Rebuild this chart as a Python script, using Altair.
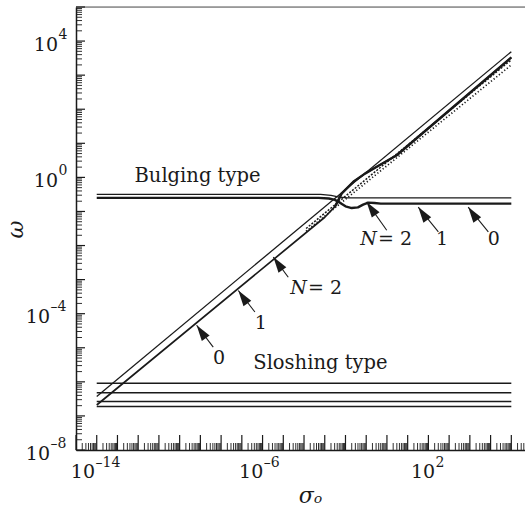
import altair as alt
import pandas as pd

W, H = 449, 443
FONT = "DejaVu Serif"
INK = "#1a1a1a"
X_DOMAIN = [1e-15, 10 ** 6.66]
Y_DOMAIN = [1e-8, 1e5]

# ---- curves: log10(sigma_o), log10(omega) ----
upper_diag_ls = [-14.0, 6.0]
upper_diag_lw = [-6.43, 3.69]

lower_branch_ls = [-14.0, -3.0, -2.5, -2.18, -1.62, -1.06, -0.49, 0.47, 6.0]
lower_branch_lw = [-6.68, -1.17, -0.85, -0.47, -0.13, 0.11, 0.31, 0.65, 3.52]

bulge_thin_ls = [-14.0, -3.2, -2.7, -2.3, -1.9, 6.0]
bulge_thin_lw = [-0.50, -0.50, -0.53, -0.58, -0.60, -0.60]

bulge_thick_ls = [-14.0, -3.3, -2.8, -2.51, -2.25, -2.0, -1.70, -1.4, -1.15, -0.90, -0.6, -0.3, 6.0]
bulge_thick_lw = [-0.60, -0.60, -0.62, -0.66, -0.75, -0.85, -0.90, -0.88, -0.80, -0.74, -0.75, -0.77, -0.77]

dashed_ls = [-3.9, 6.0]
dashed_lw = [-1.50, 3.45]

dotted_ls = [-3.9, 6.0]
dotted_lw = [-1.58, 3.30]

slosh_ls = [-14.0, 6.0]
slosh_levels = [-6.04, -6.32, -6.58, -6.72]

# ---- annotations ----
type_text = ["Bulging type", "Sloshing type"]
type_ls = [-9.14, -3.21]
type_lw = [-0.134, -5.617]

num_text = ["1", "0", "1", "0"]
num_ls = [2.66, 5.16, -6.09, -8.10]
num_lw = [-1.994, -1.994, -4.442, -5.47]

n_ls = [-0.48, -3.86]
n_lw = [-1.994, -3.413]

arrow_tail_ls = [-0.01, 2.48, 4.89, -4.76, -6.37, -8.38]
arrow_tail_lw = [-1.55, -1.60, -1.60, -2.93, -3.95, -4.98]
arrow_tip_ls = [-0.98, 1.51, 3.92, -5.48, -7.17, -9.18]
arrow_tip_lw = [-0.72, -0.87, -0.87, -2.34, -3.32, -4.34]

# ---- axis tick labels (10 with exponent) ----
x_label_exp = [-14, -6, 2]
x_label_sup = ["–14", "–6", "2"]
y_label_exp = [-8, -4, 0, 4]
y_label_sup = ["–8", "–4", "0", "4"]
x_decades = list(range(-15, 7))
y_decades = list(range(-8, 6))
minor_mult = [2, 3, 4, 5, 6, 7, 8, 9]

# label placement styles (pixels)
x_label_dx = [-1.7, 0.7, 6.7]        # right edge of "10" relative to tick
y_label_x = [-26, -26, -18, -18]     # right edge of "10" relative to axis


def p(v):
    return 10.0 ** v


def curve_df(ls, lw):
    return pd.DataFrame({"sigma": [p(a) for a in ls],
                         "omega": [p(b) for b in lw],
                         "ord": list(range(len(ls)))})


xscale = alt.Scale(type="log", domain=X_DOMAIN, nice=False)
yscale = alt.Scale(type="log", domain=Y_DOMAIN, nice=False)

xaxis = alt.Axis(values=[p(e) for e in x_label_exp], labels=False,
                 ticks=False, tickSize=0, grid=False, domainColor=INK, domainWidth=1.5,
                 title="σₒ", titleFont=FONT, titleFontSize=22, titleFontStyle="italic",
                 titleFontWeight="normal", titleColor=INK, titleX=234, titleY=45,
                 titleAlign="center", titleBaseline="middle")
yaxis = alt.Axis(values=[p(e) for e in y_label_exp], labels=False,
                 ticks=False, tickSize=0, grid=False, domainColor=INK, domainWidth=1.5,
                 title="ω", titleFont=FONT, titleFontSize=22, titleFontStyle="italic",
                 titleFontWeight="normal", titleColor=INK, titleX=-61, titleY=222,
                 titleAlign="center", titleBaseline="middle", titleAngle=270)


def X(field="sigma"):
    return alt.X(f"{field}:Q", scale=xscale, axis=xaxis)


def Y(field="omega"):
    return alt.Y(f"{field}:Q", scale=yscale, axis=yaxis)


def line(df, width, dash=None):
    kw = dict(color=INK, strokeWidth=width, clip=True, strokeCap="butt", strokeJoin="round")
    if dash is not None:
        kw["strokeDash"] = dash
    return alt.Chart(df).mark_line(**kw).encode(x=X(), y=Y(), order="ord:Q")


layers = []
layers.append(line(curve_df(upper_diag_ls, upper_diag_lw), 1.3))
layers.append(line(curve_df(lower_branch_ls, lower_branch_lw), 1.7))
layers.append(line(curve_df(lower_branch_ls[2:], lower_branch_lw[2:]), 2.4))
layers.append(line(curve_df(bulge_thin_ls, bulge_thin_lw), 1.3))
layers.append(line(curve_df(bulge_thick_ls, bulge_thick_lw), 2.4))
layers.append(line(curve_df(dashed_ls, dashed_lw), 1.5, [2, 1.5]))
layers.append(line(curve_df(dotted_ls, dotted_lw), 1.7, [1.2, 2.2]))
for lv in slosh_levels:
    layers.append(line(curve_df(slosh_ls, [lv, lv]), 1.5))

# frame top line
top_df = pd.DataFrame({"omega": [Y_DOMAIN[1]]})
layers.append(alt.Chart(top_df).mark_rule(color="#555555", strokeWidth=1).encode(
    y=Y(), x=alt.value(0), x2=alt.value(W)))

# inward ticks
y_major_df = pd.DataFrame({"omega": [p(d) for d in y_decades]})
y_minor_df = pd.DataFrame({"omega": [m * p(d) for d in y_decades[:-1] for m in minor_mult]})
x_major_df = pd.DataFrame({"sigma": [p(d) for d in x_decades]})
x_minor_df = pd.DataFrame({"sigma": [m * p(d) for d in x_decades for m in minor_mult
                                     if m * p(d) < X_DOMAIN[1]]})
layers.append(alt.Chart(y_major_df).mark_rule(color=INK, strokeWidth=1.2).encode(
    y=Y(), x=alt.value(0), x2=alt.value(9)))
layers.append(alt.Chart(y_minor_df).mark_rule(color=INK, strokeWidth=0.9).encode(
    y=Y(), x=alt.value(0), x2=alt.value(6)))
layers.append(alt.Chart(x_major_df).mark_rule(color=INK, strokeWidth=1.2).encode(
    x=X(), y=alt.value(H), y2=alt.value(H - 15)))
layers.append(alt.Chart(x_minor_df).mark_rule(color=INK, strokeWidth=0.9).encode(
    x=X(), y=alt.value(H), y2=alt.value(H - 7)))

# tick labels: "10" plus a raised exponent
for e, sup, dx in zip(x_label_exp, x_label_sup, x_label_dx):
    d = pd.DataFrame({"sigma": [p(e)]})
    layers.append(alt.Chart(d).mark_text(text="10", font=FONT, fontSize=19, color=INK, align="right",
                                         baseline="alphabetic", dx=dx).encode(
        x=X(), y=alt.value(H + 28)))
    layers.append(alt.Chart(d).mark_text(text=sup, font=FONT, fontSize=14, color=INK, align="left",
                                         baseline="alphabetic", dx=dx + 0.5).encode(
        x=X(), y=alt.value(H + 16.5)))
for e, sup, xr in zip(y_label_exp, y_label_sup, y_label_x):
    d = pd.DataFrame({"omega": [p(e)]})
    layers.append(alt.Chart(d).mark_text(text="10", font=FONT, fontSize=19, color=INK, align="right",
                                         baseline="alphabetic", dy=9.5).encode(
        y=Y(), x=alt.value(xr)))
    layers.append(alt.Chart(d).mark_text(text=sup, font=FONT, fontSize=14, color=INK, align="left",
                                         baseline="alphabetic", dy=-2.5).encode(
        y=Y(), x=alt.value(xr + 0.5)))

# arrows
arr_df = pd.DataFrame({"sigma": [p(v) for v in arrow_tail_ls], "omega": [p(v) for v in arrow_tail_lw],
                       "sigma2": [p(v) for v in arrow_tip_ls], "omega2": [p(v) for v in arrow_tip_lw]})
layers.append(alt.Chart(arr_df).mark_rule(color=INK, strokeWidth=1.1).encode(
    x=X(), y=Y(), x2="sigma2:Q", y2="omega2:Q"))
tip_df = pd.DataFrame({"sigma": [p(v) for v in arrow_tip_ls], "omega": [p(v) for v in arrow_tip_lw]})
layers.append(alt.Chart(tip_df).mark_point(shape="M0,0 L-0.3,1 L0.3,1 Z", filled=True, color=INK,
                                            opacity=1, size=1000, angle=325, strokeWidth=0).encode(
    x=X(), y=Y()))

# texts
type_df = pd.DataFrame({"sigma": [p(v) for v in type_ls], "omega": [p(v) for v in type_lw],
                        "t": type_text})
layers.append(alt.Chart(type_df).mark_text(font=FONT, fontSize=19.5, color=INK, align="center",
                                            baseline="alphabetic").encode(x=X(), y=Y(), text="t:N"))
num_df = pd.DataFrame({"sigma": [p(v) for v in num_ls], "omega": [p(v) for v in num_lw],
                       "t": num_text})
layers.append(alt.Chart(num_df).mark_text(font=FONT, fontSize=19, color=INK, align="center",
                                           baseline="alphabetic").encode(x=X(), y=Y(), text="t:N"))
n_df = pd.DataFrame({"sigma": [p(v) for v in n_ls], "omega": [p(v) for v in n_lw],
                     "a": ["N", "N"], "b": ["= 2", "= 2"]})
layers.append(alt.Chart(n_df).mark_text(font=FONT, fontSize=19, fontStyle="italic", color=INK,
                                         align="right", baseline="alphabetic").encode(
    x=X(), y=Y(), text="a:N"))
layers.append(alt.Chart(n_df).mark_text(font=FONT, fontSize=19, color=INK, align="left", dx=1,
                                         baseline="alphabetic").encode(
    x=X(), y=Y(), text="b:N"))

chart = alt.layer(*layers).properties(
    width=W, height=H,
    autosize=alt.AutoSizeParams(type="none"),
    padding={"left": 76, "top": 7, "right": 0, "bottom": 67},
).configure_view(stroke=None).configure(background="white")

chart.save("out.html", embed_options={"renderer": "svg", "actions": False})
